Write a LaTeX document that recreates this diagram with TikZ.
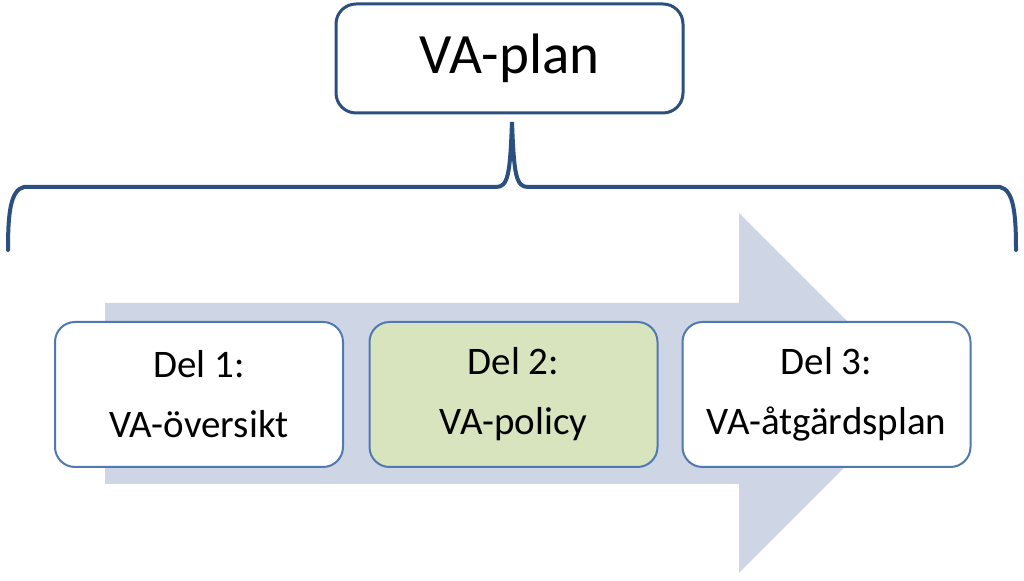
\documentclass[tikz,border=0pt]{standalone}
\usepackage{fontspec}
\setmainfont{Carlito}
\usepackage{tikz}
\definecolor{bracecol}{HTML}{2B5080}
\definecolor{boxline}{HTML}{4F79B0}
\definecolor{arrowfill}{HTML}{CED6E6}
\definecolor{greenfill}{HTML}{D7E4BD}
\tikzset{partbox/.style={draw=boxline, line width=1pt, rounded corners=10pt, fill=white,
    minimum width=144pt, minimum height=72.5pt, inner sep=0pt, align=center,
    font=\fontsize{19.5}{30}\selectfont}}

\begin{document}
\begin{tikzpicture}[x=0.5pt, y=-0.5pt]
\useasboundingbox (0,0) rectangle (1024,581);
\fill[arrowfill] (105,303) -- (739,303) -- (739,213) -- (919,393) -- (739,573) -- (739,484) -- (105,484) -- cycle;
\node[draw=bracecol, line width=1.5pt, rounded corners=10pt, fill=white, minimum width=173.5pt,
  minimum height=54.5pt, inner sep=0pt, font=\fontsize{28.5}{34}\selectfont] (plan) at (509.5,58.5) {VA-plan};
\coordinate (tip) at (512,122);
\draw[bracecol, line width=2pt, line cap=round]
  (8,250) .. controls (8,215) and (10,190) .. (24,187) -- (496,187)
  .. controls (508,187) and (510,175) .. (tip)
  .. controls (514,175) and (516,187) .. (528,187) -- (1000,187)
  .. controls (1014,190) and (1016,215) .. (1016,250);
\node[partbox] (del1) at (199,394.5) {Del 1:\\VA-översikt};
\node[partbox, fill=greenfill] (del2) at (513.5,394.5) {Del 2:\\VA-policy};
\node[partbox] (del3) at (826.5,394.5) {Del 3:\\VA-åtgärdsplan};
\end{tikzpicture}
\end{document}
